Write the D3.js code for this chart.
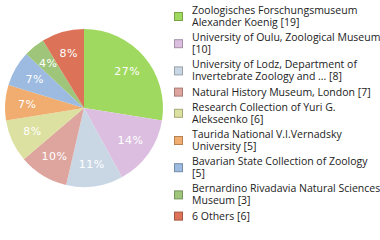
<!DOCTYPE html>
<html>
<head>
<meta charset="utf-8">
<script src="https://cdn.jsdelivr.net/npm/d3@7"></script>
<style>
  body { margin: 0; background: #fff; }
  svg { display: block; }
</style>
</head>
<body>
<svg id="chart" width="380" height="240"></svg>
<script>
// legend names, already broken into lines like the original
const names = [
  ["Zoologisches Forschungsmuseum", "Alexander Koenig [19]"],
  ["University of Oulu, Zoological Museum", "[10]"],
  ["University of Lodz, Department of", "Invertebrate Zoology and ... [8]"],
  ["Natural History Museum, London [7]"],
  ["Research Collection of Yuri G.", "Alekseenko [6]"],
  ["Taurida National V.I.Vernadsky", "University [5]"],
  ["Bavarian State Collection of Zoology", "[5]"],
  ["Bernardino Rivadavia Natural Sciences", "Museum [3]"],
  ["6 Others [6]"]
];
const counts = [19, 10, 8, 7, 6, 5, 5, 3, 6];
const colors = ["#a0d95f", "#dcbfe0", "#c9d7e5", "#dea59e", "#dce0a0",
                "#f0ad6f", "#9dbbe0", "#9ec57a", "#dc7359"];

const svg = d3.select("#chart");
const cx = 84, cy = 108, radius = 79;
const total = d3.sum(counts);

const pie = d3.pie().sort(null).value(d => d);
const arc = d3.arc().innerRadius(0).outerRadius(radius);
const labelArc = d3.arc().innerRadius(radius * 0.72).outerRadius(radius * 0.72);

const g = svg.append("g").attr("transform", `translate(${cx},${cy})`);
const slices = g.selectAll(".arc")
  .data(pie(counts))
  .enter().append("g")
  .attr("class", "arc");

slices.append("path")
  .attr("d", arc)
  .attr("fill", (d, i) => colors[i]);

slices.append("text")
  .attr("transform", d => `translate(${labelArc.centroid(d)})`)
  .attr("text-anchor", "middle")
  .attr("dominant-baseline", "central")
  .style("font-family", "DejaVu Sans, sans-serif")
  .style("font-size", "11px")
  .style("letter-spacing", "0.5px")
  .style("fill", "#fff")
  .text(d => Math.floor(d.data / total * 100) + "%");

// legend
const lineH = 12, gap = 3.2;
let y = 10;
const legend = svg.append("g");
names.forEach((lines, i) => {
  const top = y;
  const mid = top + (lines.length - 1) * lineH / 2;
  legend.append("rect")
    .attr("x", 174.5).attr("y", mid - 3.5)
    .attr("width", 8).attr("height", 8)
    .attr("fill", colors[i])
    .attr("stroke", d3.color(colors[i]).darker(0.8))
    .attr("stroke-width", 1);
  const t = legend.append("text")
    .style("font-family", "Open Sans, sans-serif")
    .style("font-size", "10.5px")
    .style("fill", "#222");
  lines.forEach((ln, j) => {
    t.append("tspan")
      .attr("x", 192)
      .attr("y", top + j * lineH)
      .attr("dominant-baseline", "central")
      .text(ln);
  });
  y += lines.length * lineH + gap;
});
</script>
</body>
</html>
